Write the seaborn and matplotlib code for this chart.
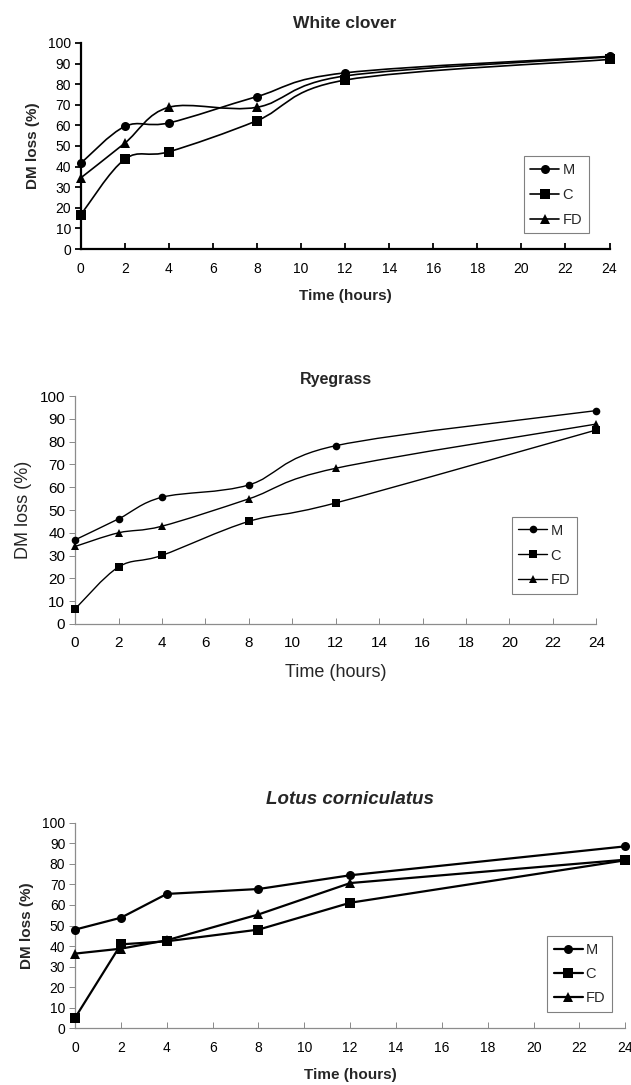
import matplotlib
matplotlib.use("Agg")
import matplotlib.pyplot as plt
import seaborn as sns
import pandas as pd
from matplotlib.path import Path
from matplotlib.patches import PathPatch
from matplotlib.lines import Line2D

# Data: DM loss (%) over incubation time
hours = [0, 2, 4, 8, 12, 24]
treatments = ["M", "C", "FD"]

clover_m = [41.6, 59.5, 61.2, 74.0, 85.5, 93.5]
clover_c = [16.6, 43.6, 47.2, 62.3, 82.0, 92.0]
clover_fd = [34.5, 51.4, 68.8, 68.8, 84.0, 93.2]

rye_m = [36.9, 46.1, 55.6, 61.0, 78.2, 93.6]
rye_c = [6.6, 25.0, 30.1, 45.0, 53.1, 85.1]
rye_fd = [34.0, 40.0, 42.9, 54.9, 68.3, 87.7]

lotus_m = [48.0, 53.8, 65.4, 67.8, 74.5, 88.6]
lotus_c = [5.0, 40.8, 42.3, 48.0, 61.1, 81.8]
lotus_fd = [36.3, 38.7, 42.8, 55.4, 70.7, 82.1]

markers = {"M": "o", "C": "s", "FD": "^"}


def long_form(m, c, fd):
    rows = []
    for name, vals in zip(treatments, [m, c, fd]):
        for h, v in zip(hours, vals):
            rows.append({"Time": h, "Loss": v, "Treatment": name})
    return pd.DataFrame(rows)


def smooth_path(x, y):
    # Bezier segments through the points (Excel style smoothed line)
    n = len(x)
    verts = [(x[0], y[0])]
    codes = [Path.MOVETO]
    for i in range(n - 1):
        x0, y0 = x[max(i - 1, 0)], y[max(i - 1, 0)]
        x1, y1 = x[i], y[i]
        x2, y2 = x[i + 1], y[i + 1]
        x3, y3 = x[min(i + 2, n - 1)], y[min(i + 2, n - 1)]
        c1 = (x1 + (x2 - x0) / 6, y1 + (y2 - y0) / 6)
        c2 = (x2 - (x3 - x1) / 6, y2 - (y3 - y1) / 6)
        verts += [c1, c2, (x2, y2)]
        codes += [Path.CURVE4] * 3
    return Path(verts, codes)


sns.set_theme(style="white")
plt.rcParams["font.family"] = ["Liberation Sans", "DejaVu Sans"]

fig = plt.figure(figsize=(6.31, 10.85), dpi=100)

panels = [
    dict(title="White clover", data=(clover_m, clover_c, clover_fd), smooth=True,
         rect=[0.128, 0.7705, 0.838, 0.1899], lw=1.2, ms=6.5, bold=True, lfs=11,
         tfs=12.5, tick=10, spine="black", spw=1.6, tpad=11,
         title_style="normal", leg=(0.830, 0.856), lsp=0.75),
    dict(title="Ryegrass", data=(rye_m, rye_c, rye_fd), smooth=True,
         rect=[0.119, 0.4249, 0.826, 0.2101], lw=1.0, ms=5.5, bold=False, lfs=13,
         tfs=11.5, tick=11, spine="#8c8c8c", spw=0.9, tpad=9,
         title_style="normal", leg=(0.811, 0.5235), lsp=0.75),
    dict(title="Lotus corniculatus", data=(lotus_m, lotus_c, lotus_fd), smooth=False,
         rect=[0.119, 0.0525, 0.872, 0.189], lw=1.6, ms=6.5, bold=True, lfs=11,
         tfs=13.5, tick=10, spine="#8c8c8c", spw=0.9, tpad=14,
         title_style="italic", leg=(0.867, 0.137), lsp=0.7),
]

for p in panels:
    ax = fig.add_axes(p["rect"])
    df = long_form(*p["data"])
    sns.lineplot(data=df, x="Time", y="Loss", style="Treatment", markers=markers,
                 dashes=False, color="black", markersize=p["ms"],
                 linewidth=0 if p["smooth"] else p["lw"], markeredgewidth=0,
                 legend=False, ax=ax, clip_on=False, zorder=3)
    if p["smooth"]:
        for vals in p["data"]:
            ax.add_patch(PathPatch(smooth_path(hours, vals), fill=False,
                                   edgecolor="black", linewidth=p["lw"], zorder=2))

    ax.set_xlim(0, 24)
    ax.set_ylim(0, 100)
    ax.set_xticks(range(0, 25, 2))
    ax.set_yticks(range(0, 101, 10))
    for s in ["top", "right"]:
        ax.spines[s].set_visible(False)
    for s in ["left", "bottom"]:
        ax.spines[s].set_color(p["spine"])
        ax.spines[s].set_linewidth(p["spw"])
    ax.tick_params(axis="x", direction="in", length=4, width=p["spw"] * 0.8,
                   labelsize=p["tick"], pad=9, bottom=True, color=p["spine"],
                   labelcolor="black")
    ax.tick_params(axis="y", direction="out", length=4, width=p["spw"] * 0.8,
                   labelsize=p["tick"], pad=3, left=True, color=p["spine"],
                   labelcolor="black")

    weight = "bold" if p["bold"] else "normal"
    ax.set_xlabel("Time (hours)", fontsize=p["lfs"], fontweight=weight, labelpad=10)
    ax.set_ylabel("DM loss (%)", fontsize=p["lfs"], fontweight=weight, labelpad=6)
    ax.set_title(p["title"], fontsize=p["tfs"], fontweight="bold",
                 fontstyle=p["title_style"], pad=p["tpad"])

    handles = [Line2D([], [], color="black", marker=markers[t], markersize=p["ms"],
                      linewidth=p["lw"], markeredgewidth=0) for t in treatments]
    leg = ax.legend(handles, treatments, loc="upper left", bbox_to_anchor=p["leg"],
                    bbox_transform=fig.transFigure, borderaxespad=0, fancybox=False,
                    framealpha=1, edgecolor="#808080", fontsize=10.5, handlelength=2.0,
                    handletextpad=0.2, labelspacing=p["lsp"], borderpad=0.45)
    leg.get_frame().set_linewidth(0.8)

fig.savefig("out.png", dpi=100)
